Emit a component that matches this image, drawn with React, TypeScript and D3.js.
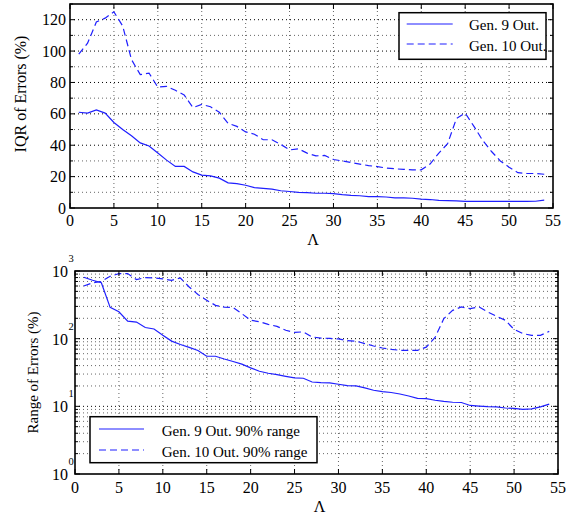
import React from "react";
import * as d3 from "d3";

// Λ values
const lambdaVals = [1,2,3,4,5,6,7,8,9,10,11,12,13,14,15,16,17,18,19,20,21,22,23,24,25,26,27,28,29,30,31,32,33,34,35,36,37,38,39,40,41,42,43,44,45,46,47,48,49,50,51,52,53,54];

// IQR of errors (%)
const iqrGen9 = [61,60.5,62.5,60.5,54.5,50,46,41.5,39.5,35,30.5,26.5,26.5,23,21,20.5,19,16,15.5,14.5,13,12.5,12,11,10.5,10,9.8,9.4,9.4,9.2,8.5,8,7.8,7.2,7.2,7,6.5,6.4,6.2,5.7,5.4,4.8,4.7,4.6,4.2,4.2,4.2,4.2,4.2,4.2,4.2,4.2,4.3,5];
const iqrGen10 = [98,105,118.5,121,125,116,94.6,85,86,77,77.5,75,72,64,66,64.5,61,54,52,48.5,47,43.5,43.5,40.5,37,37.7,35,33.2,33.5,30.9,30,29,28,27,26.4,25.5,25,24.6,24.3,24.3,28,35,41,57,60.5,52,43,36,30,26,22.5,22,22,21.5];

// 90% range of errors (%)
const rangeGen9 = [810,730,670,290,250,182,176,146,139,112,92,82,74.5,67,55,55,50,46,42,37,33,30.8,29.4,27.8,26.3,26,22.9,22.4,22.2,21.2,20.2,20,18.7,17.3,16.5,16,15.2,14.2,13.1,13,12.3,11.8,11.5,11.4,10.3,10.1,9.9,9.8,9.45,9.3,9.0,9.2,9.8,10.8];
const rangeGen10 = [600,670,700,834,915,915,746,798,790,766,728,788,580,450,369,311,292,288,234,187,178,163,152,133,124,126,106,102,101,99,93.5,92,84.5,78,72.8,69.6,67.3,67,67,75,104,198,262,294,278,294,248,214,187,137,119,112,112,128];

const xTicks = [0,5,10,15,20,25,30,35,40,45,50,55];
const iqrTicks = [0,20,40,60,80,100,120];
const iqrMinor = [10,30,50,70,90,110,130];
const logDecades = [1,10,100,1000];
const logExps = ["0","1","2","3"];

const topLegend = ["Gen. 9 Out.", "Gen. 10 Out."];
const botLegend = ["Gen. 9 Out. 90% range", "Gen. 10 Out. 90% range"];

const FONT = "'Liberation Serif'";
const BLUE = "#1f1fff";
const DASH = "7,4";

const T = (props: any) => <text {...props} style={{ fontFamily: FONT }} />;

export default function App() {
  const xT = d3.scaleLinear().domain([0, 55]).range([70, 553]);
  const yT = d3.scaleLinear().domain([0, 130]).range([208, 4]);
  const xB = d3.scaleLinear().domain([0, 55]).range([75, 558]);
  const yB = d3.scaleLog().domain([1, 1000]).range([474, 271]);

  const lineT = (vals: number[]) =>
    d3.line<number>().x((_, i) => xT(lambdaVals[i])).y((v) => yT(v))(vals) || "";
  const lineB = (vals: number[]) =>
    d3.line<number>().x((_, i) => xB(lambdaVals[i])).y((v) => yB(v))(vals) || "";

  const logMinor: number[] = [];
  [1, 10, 100].forEach((d) => {
    for (let k = 2; k <= 9; k++) logMinor.push(k * d);
  });

  const [tl, tr] = xT.range();
  const [tb, tt] = yT.range();
  const [bl, br] = xB.range();
  const [bb, bt] = yB.range();

  return (
    <svg width={583} height={516} style={{ position: "absolute", left: 0, top: 0, background: "#fff" }}>
      <rect x={0} y={0} width={583} height={516} fill="#fff" />
      {/* ===== TOP CHART ===== */}
      <g>
        {iqrMinor.filter((v) => v < 130).map((v) => (
          <line key={"tm" + v} x1={tl} x2={tr} y1={yT(v)} y2={yT(v)} stroke="#666" strokeDasharray="1,3" />
        ))}
        {iqrTicks.filter((v) => v > 0).map((v) => (
          <line key={"tg" + v} x1={tl} x2={tr} y1={yT(v)} y2={yT(v)} stroke="#000" strokeDasharray="1,3" />
        ))}
        {xTicks.filter((v) => v > 0 && v < 55).map((v) => (
          <line key={"tv" + v} x1={xT(v)} x2={xT(v)} y1={tb} y2={tt} stroke="#666" strokeDasharray="1,3" />
        ))}
        <path d={lineT(iqrGen9)} fill="none" stroke={BLUE} strokeWidth={1.2} />
        <path d={lineT(iqrGen10)} fill="none" stroke={BLUE} strokeWidth={1.2} strokeDasharray={DASH} />
        {xTicks.map((v) => (
          <g key={"tx" + v}>
            <line x1={xT(v)} x2={xT(v)} y1={tb} y2={tb - 5} stroke="#000" />
            <line x1={xT(v)} x2={xT(v)} y1={tt} y2={tt + 5} stroke="#000" />
            <T x={xT(v)} y={226} fontSize={16} textAnchor="middle">{v}</T>
          </g>
        ))}
        {iqrTicks.map((v) => (
          <g key={"ty" + v}>
            <line x1={tl} x2={tl + 5} y1={yT(v)} y2={yT(v)} stroke="#000" />
            <line x1={tr} x2={tr - 5} y1={yT(v)} y2={yT(v)} stroke="#000" />
            <T x={66} y={yT(v) + 5.5} fontSize={16} textAnchor="end">{v}</T>
          </g>
        ))}
        {iqrMinor.map((v) => (
          <g key={"tym" + v}>
            <line x1={tl} x2={tl + 3} y1={yT(v)} y2={yT(v)} stroke="#000" />
            <line x1={tr} x2={tr - 3} y1={yT(v)} y2={yT(v)} stroke="#000" />
          </g>
        ))}
        <rect x={tl} y={tt} width={tr - tl} height={tb - tt} fill="none" stroke="#000" strokeWidth={1.6} />
        <T x={(tl + tr) / 2 + 1.5} y={245} fontSize={16} textAnchor="middle">Λ</T>
        <T transform={`translate(26,${(tb + tt) / 2 - 12}) rotate(-90)`} fontSize={16} textAnchor="middle">IQR of Errors (%)</T>
        <rect x={399} y={12.7} width={147} height={46.6} fill="#fff" stroke="#000" strokeWidth={1.5} />
        <line x1={406.7} x2={452.7} y1={24} y2={24} stroke={BLUE} strokeWidth={1.2} />
        <line x1={406.7} x2={452.7} y1={44} y2={44} stroke={BLUE} strokeWidth={1.2} strokeDasharray={DASH} />
        <T x={469} y={30} fontSize={15}>{topLegend[0]}</T>
        <T x={469} y={50.5} fontSize={15}>{topLegend[1]}</T>
      </g>

      {/* ===== BOTTOM CHART ===== */}
      <g>
        {logMinor.map((v) => (
          <line key={"bm" + v} x1={bl} x2={br} y1={yB(v)} y2={yB(v)} stroke="#666" strokeDasharray="1,3" />
        ))}
        {[10, 100].map((v) => (
          <line key={"bg" + v} x1={bl} x2={br} y1={yB(v)} y2={yB(v)} stroke="#000" strokeDasharray="1,3" />
        ))}
        {xTicks.filter((v) => v > 0 && v < 55).map((v) => (
          <line key={"bv" + v} x1={xB(v)} x2={xB(v)} y1={bb} y2={bt} stroke="#666" strokeDasharray="1,3" />
        ))}
        <path d={lineB(rangeGen9)} fill="none" stroke={BLUE} strokeWidth={1.2} />
        <path d={lineB(rangeGen10)} fill="none" stroke={BLUE} strokeWidth={1.2} strokeDasharray={DASH} />
        {xTicks.map((v) => (
          <g key={"bx" + v}>
            <line x1={xB(v)} x2={xB(v)} y1={bb} y2={bb - 5} stroke="#000" />
            <line x1={xB(v)} x2={xB(v)} y1={bt} y2={bt + 5} stroke="#000" />
            <T x={xB(v)} y={493} fontSize={16} textAnchor="middle">{v}</T>
          </g>
        ))}
        {logDecades.map((v, i) => (
          <g key={"by" + v}>
            <line x1={bl} x2={bl + 5} y1={yB(v)} y2={yB(v)} stroke="#000" />
            <line x1={br} x2={br - 5} y1={yB(v)} y2={yB(v)} stroke="#000" />
            <T x={68} y={yB(v) + 6} fontSize={16} textAnchor="end">10</T>
            <T x={68.5} y={yB(v) - 9} fontSize={10.5} textAnchor="start">{logExps[i]}</T>
          </g>
        ))}
        {logMinor.map((v) => (
          <g key={"bym" + v}>
            <line x1={bl} x2={bl + 3} y1={yB(v)} y2={yB(v)} stroke="#000" />
            <line x1={br} x2={br - 3} y1={yB(v)} y2={yB(v)} stroke="#000" />
          </g>
        ))}
        <rect x={bl} y={bt} width={br - bl} height={bb - bt} fill="none" stroke="#000" strokeWidth={1.6} />
        <T x={(bl + br) / 2 + 3} y={512} fontSize={16} textAnchor="middle">Λ</T>
        <T transform={`translate(38,${(bb + bt) / 2}) rotate(-90)`} fontSize={15} textAnchor="middle">Range of Errors (%)</T>
        <rect x={90} y={416.7} width={227} height={46} fill="#fff" stroke="#000" strokeWidth={1.5} />
        <line x1={99} x2={144} y1={429} y2={429} stroke={BLUE} strokeWidth={1.2} />
        <line x1={99} x2={144} y1={450} y2={450} stroke={BLUE} strokeWidth={1.2} strokeDasharray={DASH} />
        <T x={161.7} y={436} fontSize={15}>{botLegend[0]}</T>
        <T x={161.7} y={457} fontSize={15}>{botLegend[1]}</T>
      </g>
    </svg>
  );
}
